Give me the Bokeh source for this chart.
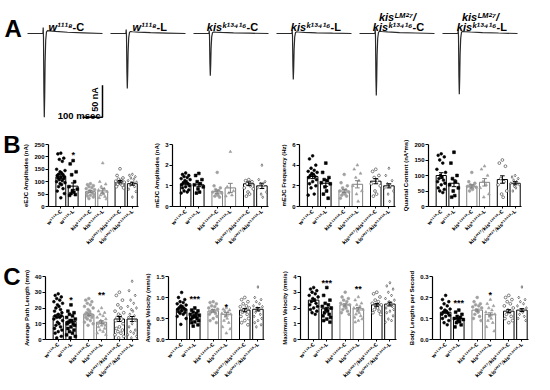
import math
from bokeh.plotting import figure
from bokeh.layouts import column, row
from bokeh.models import Range1d, FixedTicker, Label, PrintfTickFormatter, LinearAxis
from bokeh.core.properties import value
from bokeh.embed import file_html
from bokeh.resources import INLINE

FONT = "Liberation Sans"
SUP_FONT = "DejaVu Sans"

# ---------------- data ----------------
groups = ["w¹¹¹⁸-C", "w¹¹¹⁸-L", "kisᵏ¹³⁴¹⁶-C", "kisᵏ¹³⁴¹⁶-L",
          "kisᴸᴹ²⁷/kisᵏ¹³⁴¹⁶-C", "kisᴸᴹ²⁷/kisᵏ¹³⁴¹⁶-L"]

# Panel A: representative eEJC traces
trace_italic_line1 = ["", "", "", "", "kisᴸᴹ²⁷/", "kisᴸᴹ²⁷/"]
trace_italic = ["w¹¹¹⁸", "w¹¹¹⁸", "kisᵏ¹³⁴¹⁶", "kisᵏ¹³⁴¹⁶", "kisᵏ¹³⁴¹⁶", "kisᵏ¹³⁴¹⁶"]
trace_suffix = ["-C", "-L", "-C", "-L", "-C", "-L"]
trace_peak_nA = [131, 86, 66, 72, 97, 95]
trace_t_ms = [-80, -3, -1.5, 0, 2, 4, 6, 8, 11, 15, 20, 30, 60, 120, 200, 295]
trace_shape = [0, 0, 0.07, -0.05, -0.7, -1.0, -0.75, -0.35, -0.08, 0.02, 0.035, 0.032, 0.025, 0.015, 0.008, 0.0]
scale_nA = 50
scale_ms = 100

# Panel B
eejc_mean = [120, 82, 60, 63, 100, 92]
eejc_sem = [8, 13, 4, 9, 5, 6]
eejc_pts = [
    [215, 212, 195, 190, 182, 150, 145, 140, 135, 130, 128, 125, 120, 118, 115, 112, 108, 104, 100, 96, 92, 88, 80, 72, 62, 52, 35],
    [185, 172, 140, 128, 100, 80, 70, 62, 58, 52, 48, 45],
    [92, 88, 84, 80, 76, 72, 68, 64, 60, 58, 55, 52, 48, 45, 42, 38, 32],
    [175, 100, 90, 80, 72, 66, 60, 56, 50, 46, 40, 35, 30],
    [152, 125, 115, 110, 106, 102, 98, 95, 92, 90, 86, 80, 75],
    [130, 126, 120, 115, 110, 104, 98, 94, 90, 86, 80, 70, 60, 38],
]
eejc_stars = [(1, "*", 208)]

mejc_mean = [1.1, 1.05, 0.72, 0.9, 1.1, 1.0]
mejc_sem = [0.05, 0.09, 0.08, 0.22, 0.09, 0.13]
mejc_pts = [
    [1.62, 1.55, 1.5, 1.45, 1.4, 1.35, 1.3, 1.25, 1.2, 1.15, 1.1, 1.05, 1.0, 0.95, 0.9, 0.8, 0.75, 0.7, 0.65],
    [1.6, 1.5, 1.3, 1.2, 1.1, 1.05, 0.95, 0.85, 0.7, 0.65],
    [1.65, 1.0, 0.9, 0.82, 0.75, 0.7, 0.65, 0.6, 0.55, 0.5, 0.45],
    [2.65, 0.95, 0.75, 0.65, 0.55, 0.5],
    [1.3, 1.25, 1.2, 1.1, 1.0, 0.9, 0.85, 0.7, 0.6, 0.5],
    [2.0, 1.3, 1.2, 1.1, 1.0, 0.9, 0.7, 0.6, 0.45],
]
mejc_stars = []

mfreq_mean = [2.9, 2.25, 1.5, 2.15, 2.45, 2.0]
mfreq_sem = [0.2, 0.3, 0.15, 0.35, 0.25, 0.2]
mfreq_pts = [
    [4.9, 4.6, 4.0, 3.7, 3.5, 3.4, 3.3, 3.2, 3.1, 3.0, 2.9, 2.8, 2.6, 2.4, 2.2, 2.0, 1.8, 1.2, 1.1],
    [4.2, 3.3, 2.8, 2.6, 2.5, 2.3, 2.2, 1.9, 1.5, 1.2, 0.8],
    [3.1, 2.3, 2.0, 1.8, 1.6, 1.5, 1.4, 1.3, 1.2, 1.1, 1.0, 0.8],
    [4.0, 3.6, 3.2, 2.8, 2.5, 2.0, 1.5, 1.2, 0.5],
    [3.6, 3.4, 3.0, 2.8, 2.5, 2.2, 2.0, 1.5, 1.2, 1.0],
    [3.7, 3.0, 2.5, 2.2, 2.0, 1.8, 1.5, 1.2, 0.5],
]
mfreq_stars = []

qc_mean = [100, 75, 65, 78, 87, 75]
qc_sem = [9, 11, 5, 12, 12, 5]
qc_pts = [
    [170, 165, 160, 150, 140, 120, 110, 100, 95, 90, 85, 80, 75, 70, 60, 55, 50, 45],
    [175, 140, 100, 90, 80, 70, 60, 50, 35, 30],
    [110, 80, 75, 70, 68, 65, 62, 60, 55, 50],
    [130, 120, 100, 80, 70, 60, 40, 30],
    [150, 140, 130, 90, 80, 70, 50, 40, 30],
    [100, 95, 90, 85, 80, 75, 70, 65, 60, 50],
]
qc_stars = []

# Panel C
path_mean = [15, 11.5, 16, 11, 13, 13]
path_sem = [1.0, 0.9, 0.8, 0.9, 1.6, 1.6]
path_pts = [
    [29, 28, 27, 26, 25, 24, 23, 22, 21, 20, 19, 18, 17, 16, 15, 15, 14, 14, 13, 12, 11, 10, 9, 8, 7, 6, 5, 4, 2, 1],
    [22, 18, 17, 16, 15, 14, 13, 12, 12, 11, 10, 10, 9, 8, 7, 6, 5, 4, 3, 2, 1],
    [26, 25, 24, 23, 22, 21, 20, 19, 18, 17, 16, 16, 15, 15, 14, 14, 13, 12, 11, 10, 9],
    [20, 18, 17, 16, 15, 14, 13, 12, 11, 11, 10, 10, 9, 9, 8, 7, 6, 5, 4, 3],
    [30, 28, 25, 22, 20, 18, 17, 16, 15, 14, 13, 12, 10, 8, 7, 6, 5, 4, 3, 2, 1],
    [37, 31, 28, 25, 23, 21, 20, 19, 18, 16, 15, 14, 12, 10, 8, 6, 5, 4, 3, 2, 1],
]
path_stars = [(1, "*", 25), (3, "**", 28.5)]

avgv_mean = [0.73, 0.56, 0.68, 0.6, 0.7, 0.72]
avgv_sem = [0.03, 0.025, 0.03, 0.04, 0.04, 0.04]
avgv_pts = [
    [1.12, 1.0, 0.95, 0.9, 0.88, 0.85, 0.82, 0.8, 0.78, 0.76, 0.74, 0.72, 0.7, 0.68, 0.66, 0.64, 0.62, 0.6, 0.55, 0.5, 0.36],
    [0.75, 0.7, 0.68, 0.65, 0.62, 0.6, 0.58, 0.56, 0.54, 0.52, 0.5, 0.48, 0.45, 0.42, 0.4, 0.35, 0.32],
    [0.9, 0.88, 0.85, 0.8, 0.78, 0.75, 0.72, 0.7, 0.68, 0.65, 0.62, 0.6, 0.55, 0.5, 0.45, 0.4],
    [0.75, 0.72, 0.7, 0.68, 0.65, 0.62, 0.6, 0.55, 0.5, 0.45, 0.4, 0.3, 0.25, 0.15],
    [1.0, 0.95, 0.9, 0.85, 0.8, 0.78, 0.75, 0.7, 0.68, 0.65, 0.6, 0.55, 0.5, 0.45, 0.4, 0.35],
    [1.25, 1.0, 0.95, 0.9, 0.85, 0.8, 0.78, 0.75, 0.7, 0.65, 0.6, 0.55, 0.5, 0.45, 0.4, 0.35, 0.3],
]
avgv_stars = [(1, "***", 0.97), (3, "*", 0.77)]

maxv_mean = [2.5, 1.95, 2.2, 1.95, 2.2, 2.25]
maxv_sem = [0.08, 0.09, 0.07, 0.08, 0.09, 0.12]
maxv_pts = [
    [3.3, 3.2, 3.1, 3.0, 2.9, 2.8, 2.7, 2.6, 2.5, 2.4, 2.3, 2.2, 2.1, 2.0, 1.9, 1.8, 1.7, 1.6],
    [3.3, 2.8, 2.5, 2.3, 2.2, 2.1, 2.0, 1.9, 1.8, 1.7, 1.6, 1.5, 1.4, 1.3, 1.2, 1.1],
    [3.0, 2.7, 2.6, 2.5, 2.4, 2.3, 2.2, 2.1, 2.0, 1.9, 1.8, 1.7, 1.6],
    [2.7, 2.5, 2.3, 2.2, 2.1, 2.0, 1.9, 1.8, 1.7, 1.6, 1.5, 1.4, 1.3, 1.2, 1.1],
    [3.0, 2.9, 2.7, 2.5, 2.4, 2.3, 2.2, 2.1, 2.0, 1.9, 1.8, 1.7, 1.6],
    [3.6, 3.4, 3.2, 3.0, 2.8, 2.6, 2.5, 2.4, 2.3, 2.2, 2.1, 2.0, 1.9, 1.8, 1.7, 1.5, 1.3, 1.2, 1.1],
]
maxv_stars = [(1, "***", 3.6), (3, "**", 3.2)]

bl_mean = [0.13, 0.1, 0.14, 0.12, 0.135, 0.14]
bl_sem = [0.005, 0.004, 0.005, 0.007, 0.007, 0.007]
bl_pts = [
    [0.21, 0.19, 0.18, 0.17, 0.16, 0.15, 0.145, 0.14, 0.135, 0.13, 0.125, 0.12, 0.115, 0.11, 0.1, 0.09, 0.08, 0.07],
    [0.14, 0.13, 0.12, 0.11, 0.105, 0.1, 0.095, 0.09, 0.085, 0.08, 0.07, 0.06],
    [0.2, 0.18, 0.17, 0.165, 0.16, 0.155, 0.15, 0.14, 0.13, 0.12, 0.11, 0.1, 0.09],
    [0.19, 0.17, 0.16, 0.15, 0.14, 0.13, 0.12, 0.11, 0.1, 0.09, 0.08, 0.06, 0.04],
    [0.21, 0.2, 0.19, 0.18, 0.17, 0.16, 0.15, 0.14, 0.13, 0.12, 0.11, 0.1, 0.09, 0.08],
    [0.25, 0.2, 0.19, 0.18, 0.17, 0.16, 0.15, 0.14, 0.13, 0.12, 0.11, 0.1, 0.09],
]
bl_stars = [(1, "***", 0.175), (3, "*", 0.21)]

# ---------------- styling ----------------
XPOS = [0, 5, 12, 17, 24, 29]
X_START, X_END = -5, 31.5
FRAME_W = 96
BAR_W = 4
JIT = [0, -1.2, 1.2, -0.6, 0.6, -1.7, 1.7, -0.3, 0.3, -0.9, 0.9, -1.45, 1.45]
MARK = [
    dict(marker="circle", fill_color="black", line_color="black"),
    dict(marker="square", fill_color="black", line_color="black"),
    dict(marker="circle", fill_color="#a0a0a0", line_color="#a0a0a0"),
    dict(marker="triangle", fill_color="#a0a0a0", line_color="#a0a0a0"),
    dict(marker="circle", fill_color="white", line_color="#333333"),
    dict(marker="diamond", fill_color="white", line_color="#333333"),
]
BAR_LINE = ["black", "black", "#808080", "#808080", "black", "black"]


def panel(ylabel, means, sems, pts, ymax, ticks, fmt, stars, w, h, bl, bt, bb,
          letter=None, letter_size="24px"):
    p = figure(width=w, height=h, x_range=Range1d(X_START, X_END), y_range=Range1d(0, ymax),
               output_backend="svg", toolbar_location=None,
               min_border_left=bl, min_border_right=w - bl - FRAME_W,
               min_border_top=bt, min_border_bottom=bb)
    p.outline_line_color = None
    p.grid.visible = False
    p.background_fill_color = "white"
    p.border_fill_color = "white"

    p.vbar(x=XPOS, top=means, width=BAR_W, bottom=0, fill_color="white",
           line_color=BAR_LINE, line_width=1)
    for g in range(6):
        xs = [XPOS[g] + JIT[j % len(JIT)] for j in range(len(pts[g]))]
        p.scatter(x=xs, y=pts[g], size=2.8, line_width=0.6, **MARK[g])
    lo = [m - s for m, s in zip(means, sems)]
    hi = [m + s for m, s in zip(means, sems)]
    p.segment(x0=XPOS, y0=lo, x1=XPOS, y1=hi, line_color=BAR_LINE, line_width=1)
    p.segment(x0=[x - 0.9 for x in XPOS], y0=hi, x1=[x + 0.9 for x in XPOS], y1=hi,
              line_color=BAR_LINE, line_width=1)
    p.segment(x0=[x - 0.9 for x in XPOS], y0=lo, x1=[x + 0.9 for x in XPOS], y1=lo,
              line_color=BAR_LINE, line_width=1)
    if stars:
        p.text(x=[XPOS[g] for g, _, _ in stars], y=[yv for _, _, yv in stars],
               text=[t for _, t, _ in stars], text_font=value(FONT), text_font_size="9px",
               text_font_style="bold", text_align="center", text_baseline="middle",
               text_color="black")

    ya = p.yaxis[0]
    ya.ticker = FixedTicker(ticks=ticks)
    ya.formatter = PrintfTickFormatter(format=fmt)
    ya.axis_label = ylabel
    ya.axis_label_text_font = FONT
    ya.axis_label_text_font_size = "6px"
    ya.axis_label_text_font_style = "bold"
    ya.axis_label_text_color = "black"
    ya.axis_label_standoff = 2
    ya.major_label_text_font = FONT
    ya.major_label_text_font_size = "6px"
    ya.major_label_text_font_style = "bold"
    ya.major_label_text_color = "black"
    ya.major_label_standoff = 1
    ya.major_tick_out = 3
    ya.major_tick_in = 0
    ya.minor_tick_out = 0
    ya.minor_tick_in = 0
    ya.axis_line_width = 1.2
    ya.major_tick_line_width = 1.2

    xa = p.xaxis[0]
    xa.ticker = FixedTicker(ticks=XPOS)
    xa.major_label_overrides = {x: lab for x, lab in zip(XPOS, groups)}
    xa.major_label_orientation = math.pi / 4
    xa.major_label_text_font = SUP_FONT
    xa.major_label_text_font_size = "5px"
    xa.major_label_text_font_style = "bold"
    xa.major_label_text_color = "black"
    xa.major_label_standoff = 2
    xa.major_tick_out = 2
    xa.major_tick_in = 0
    xa.minor_tick_out = 0
    xa.minor_tick_in = 0
    xa.axis_line_width = 1.2
    xa.major_tick_line_width = 1

    if letter:
        # panel letter drawn as the label of an empty outer axis, top-aligned
        lax = LinearAxis(ticker=FixedTicker(ticks=[]), axis_label=letter,
                         axis_line_color=None, major_tick_line_color=None,
                         minor_tick_line_color=None, major_label_text_font_size="0px",
                         axis_label_text_font=FONT, axis_label_text_font_size=letter_size,
                         axis_label_text_font_style="bold", axis_label_text_color="black",
                         axis_label_standoff=0, major_tick_out=0, major_label_standoff=0)
        props = lax.properties()
        if "axis_label_orientation" in props:
            lax.axis_label_orientation = "horizontal"
        if "axis_label_align" in props:
            lax.axis_label_align = "end"
        p.add_layout(lax, "left")
    return p


# ---------------- panel A ----------------
A_H = 128
pa = figure(width=550, height=A_H, x_range=Range1d(0, 2750),
            y_range=Range1d(-(A_H - 33) * 50 / 32, 33 * 50 / 32),
            output_backend="svg", toolbar_location=None, min_border=0,
            x_axis_location=None, y_axis_location=None)
pa.outline_line_color = None
pa.grid.visible = False

starts = [135 + 415 * i for i in range(6)]
xs_all, ys_all = [], []
for st, pk in zip(starts, trace_peak_nA):
    xs_all.append([st + 80 + t for t in trace_t_ms])
    ys_all.append([v * pk for v in trace_shape])
pa.multi_line(xs=xs_all, ys=ys_all, line_color="#2a2a2a", line_width=1.2)

centers = [st + 190 for st in starts]
split_px = [7, 8, 15, 16, 15, 16]
pa.text(x=centers, y=[10.9] * 6, text=trace_italic, x_offset=split_px, text_align="right",
        text_baseline="alphabetic", text_font=value(FONT), text_font_size="11px",
        text_font_style="bold italic", text_color="black")
pa.text(x=centers, y=[10.9] * 6, text=trace_suffix, x_offset=split_px, text_align="left",
        text_baseline="alphabetic", text_font=value(FONT), text_font_size="11px",
        text_font_style="bold", text_color="black")
pa.text(x=centers[4:], y=[25.5] * 2, text=trace_italic_line1[4:], text_align="center",
        text_baseline="alphabetic", text_font=value(FONT), text_font_size="11px",
        text_font_style="bold italic", text_color="black")

# scale bar
sb_x = 510
sb_y = -131
pa.line(x=[sb_x - scale_ms, sb_x, sb_x], y=[sb_y, sb_y, sb_y + scale_nA], line_color="black",
        line_width=1.5)
pa.text(x=[sb_x - 14], y=[sb_y + 28], text=[f"{scale_nA} nA"], angle=math.pi / 2,
        text_align="center", text_baseline="bottom", text_font=value(FONT),
        text_font_size="9px", text_font_style="bold", text_color="black")
pa.text(x=[sb_x - 10], y=[sb_y + 2.5], text=[f"{scale_ms} msec"], text_align="right",
        text_baseline="alphabetic", text_font=value(FONT), text_font_size="9.5px",
        text_font_style="bold", text_color="black")
pa.add_layout(Label(x=20, y=7.8, text="A", text_font=FONT, text_font_size="24px",
                    text_font_style="bold", text_baseline="alphabetic", text_color="black"))

# ---------------- panels B ----------------
bh, bt, bb = 122, 16, 44
b1 = panel("eEJC Amplitudes (nA)", eejc_mean, eejc_sem, eejc_pts, 250, [0, 50, 100, 150, 200, 250],
           "%d", eejc_stars, 142, bh, 42, bt, bb, letter="B")
b2 = panel("mEJC Amplitudes (nA)", mejc_mean, mejc_sem, mejc_pts, 3, [0, 1, 2, 3],
           "%d", mejc_stars, 131, bh, 30, bt, bb)
b3 = panel("mEJC Frequency (Hz)", mfreq_mean, mfreq_sem, mfreq_pts, 6, [0, 2, 4, 6],
           "%d", mfreq_stars, 127, bh, 26, bt, bb)
b4 = panel("Quantal Content (nA*ms)", qc_mean, qc_sem, qc_pts, 200, [0, 50, 100, 150, 200],
           "%d", qc_stars, 150, bh, 25, bt, bb)

# ---------------- panels C ----------------
ch, ct, cb = 140, 26, 51
c1 = panel("Average Path Length (mm)", path_mean, path_sem, path_pts, 40, [0, 10, 20, 30, 40],
           "%d", path_stars, 142, ch, 42, ct, cb, letter="C")
c2 = panel("Average Velocity (mm/s)", avgv_mean, avgv_sem, avgv_pts, 1.5, [0, 0.5, 1.0, 1.5],
           "%.1f", avgv_stars, 131, ch, 26, ct, cb)
c3 = panel("Maximum Velocity (mm/s)", maxv_mean, maxv_sem, maxv_pts, 4, [0, 1, 2, 3, 4],
           "%d", maxv_stars, 132, ch, 27, ct, cb)
c4 = panel("Body Lengths per Second", bl_mean, bl_sem, bl_pts, 0.3, [0, 0.1, 0.2, 0.3],
           "%.1f", bl_stars, 145, ch, 27, ct, cb)

layout = column(pa, row(b1, b2, b3, b4, spacing=0), row(c1, c2, c3, c4, spacing=0), spacing=0)
open("out.html", "w").write(file_html(layout, INLINE))
